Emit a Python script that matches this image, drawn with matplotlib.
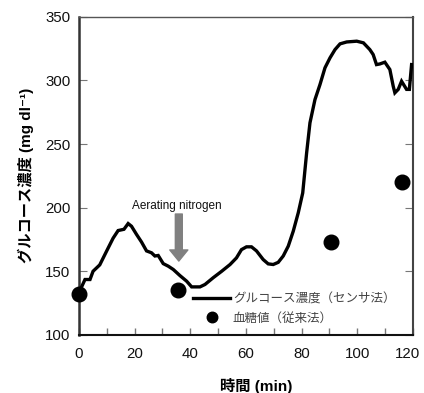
import matplotlib
matplotlib.use("Agg")
import matplotlib.pyplot as plt
import matplotlib.transforms as mtransforms
from matplotlib.ticker import MultipleLocator

plt.rcParams['font.family'] = ['Liberation Sans', 'Noto Sans CJK JP', 'DejaVu Sans']

# Sensor glucose (min, mg/dl)
sensor_t = [0, 2.2, 4, 5.1, 7.5, 10, 12.3, 14.1, 16.2, 17.7, 18.9, 20.7, 22.5, 24.3, 26.1,
            27.3, 28.5, 30.3, 32.1, 33.9, 36.3, 38.7, 40.5, 43.5, 45.3, 48.3, 51.3, 54.3,
            56.6, 58.4, 60.2, 62, 63.8, 66.2, 68, 69.8, 71.6, 73.4, 75.2, 77, 78.8, 80.4,
            81.8, 83, 84.8, 86.6, 88.4, 90.2, 92, 93.8, 96.2, 99.8, 102.2, 104.5, 105.7,
            106.9, 108.1, 109.9, 111.7, 112.9, 113.5, 114.7, 115.9, 117.7, 118.7, 119.5]
sensor_v = [133, 143.5, 143.5, 150, 155, 166, 176, 182, 183, 187.5, 185.4, 179, 173, 166, 164.5,
            162, 162.4, 156, 154, 151.4, 146.6, 142.2, 137.7, 137.7, 139.6, 145, 150, 155.3,
            160.5, 167, 169.2, 169.2, 166, 159.2, 155.8, 155.3, 157, 162, 169.7, 181.5, 196, 211.6,
            243, 266.7, 285, 296.8, 310, 317.8, 324.3, 328.8, 330.3, 330.9, 329.6, 324.3, 320.4,
            312.5, 313, 314.4, 308.6, 295.5, 290.3, 293, 299.4, 293, 293, 312.5]

# Conventional blood glucose
blood_t = [0, 35.7, 90.5, 116.2]
blood_v = [132.2, 135, 173, 220]

x_ticks = [0, 20, 40, 60, 80, 100, 120]
y_ticks = [100, 150, 200, 250, 300, 350]

fig = plt.figure(figsize=(4.24, 3.93), dpi=100)
ax = fig.add_axes([0.186, 0.148, 0.788, 0.809])

ax.plot(sensor_t, sensor_v, color='black', lw=2.4, solid_joinstyle='miter',
        label='グルコース濃度（センサ法）', zorder=3)
ax.plot(blood_t, blood_v, 'o', color='black', ms=10.5, ls='none',
        label='血糖値（従来法）', zorder=4, clip_on=False)

ax.set_xlim(0, 120)
ax.set_ylim(100, 350)
ax.set_xticks(x_ticks)
ax.set_yticks(y_ticks)
ax.xaxis.set_minor_locator(MultipleLocator(10))
ax.tick_params(axis='both', which='both', direction='in', color='#777777',
               labelsize=10.8, labelcolor='#111111')
ax.tick_params(axis='y', which='major', length=6, right=True, left=True)
ax.tick_params(axis='x', which='both', length=5, width=1)
ax.tick_params(axis='x', pad=9)
ax.tick_params(axis='y', pad=6)

# keep the last x tick label inside the canvas
last = ax.get_xticklabels()[-1]
last.set_transform(last.get_transform() +
                   mtransforms.ScaledTranslation(-4 / 72, 0, fig.dpi_scale_trans))

ax.spines['left'].set_linewidth(1.8)
ax.spines['left'].set_color('#333333')
ax.spines['bottom'].set_linewidth(1.5)
ax.spines['bottom'].set_color('#111111')
ax.spines['top'].set_linewidth(1.0)
ax.spines['top'].set_color('#555555')
ax.spines['right'].set_linewidth(1.5)
ax.spines['right'].set_color('#444444')

ax.set_xlabel('時間 (min)', fontsize=11, fontweight='bold', labelpad=12)
ax.xaxis.set_label_coords(0.53, -0.135)
ax.set_ylabel('グルコース濃度 (mg dl⁻¹)', fontsize=11, fontweight='bold', labelpad=8)

# Annotation: aerating nitrogen
ax.annotate('', xy=(35.9, 158), xytext=(35.9, 195),
            arrowprops=dict(facecolor='#808080', edgecolor='#808080',
                            width=5, headwidth=13, headlength=8))
ax.text(35.3, 201, 'Aerating nitrogen', ha='center', va='center', fontsize=8.5,
        color='#111111')

leg = ax.legend(loc='center left', bbox_to_anchor=(0.341, 0.083), frameon=False,
                fontsize=9, handlelength=3.0, handletextpad=0.2, labelspacing=0.5,
                borderpad=0, borderaxespad=0, markerscale=0.72)
for t in leg.get_texts():
    t.set_color('#444444')
    t.set_family(['Noto Sans CJK JP', 'DejaVu Sans'])

fig.savefig('out.png', dpi=100)
